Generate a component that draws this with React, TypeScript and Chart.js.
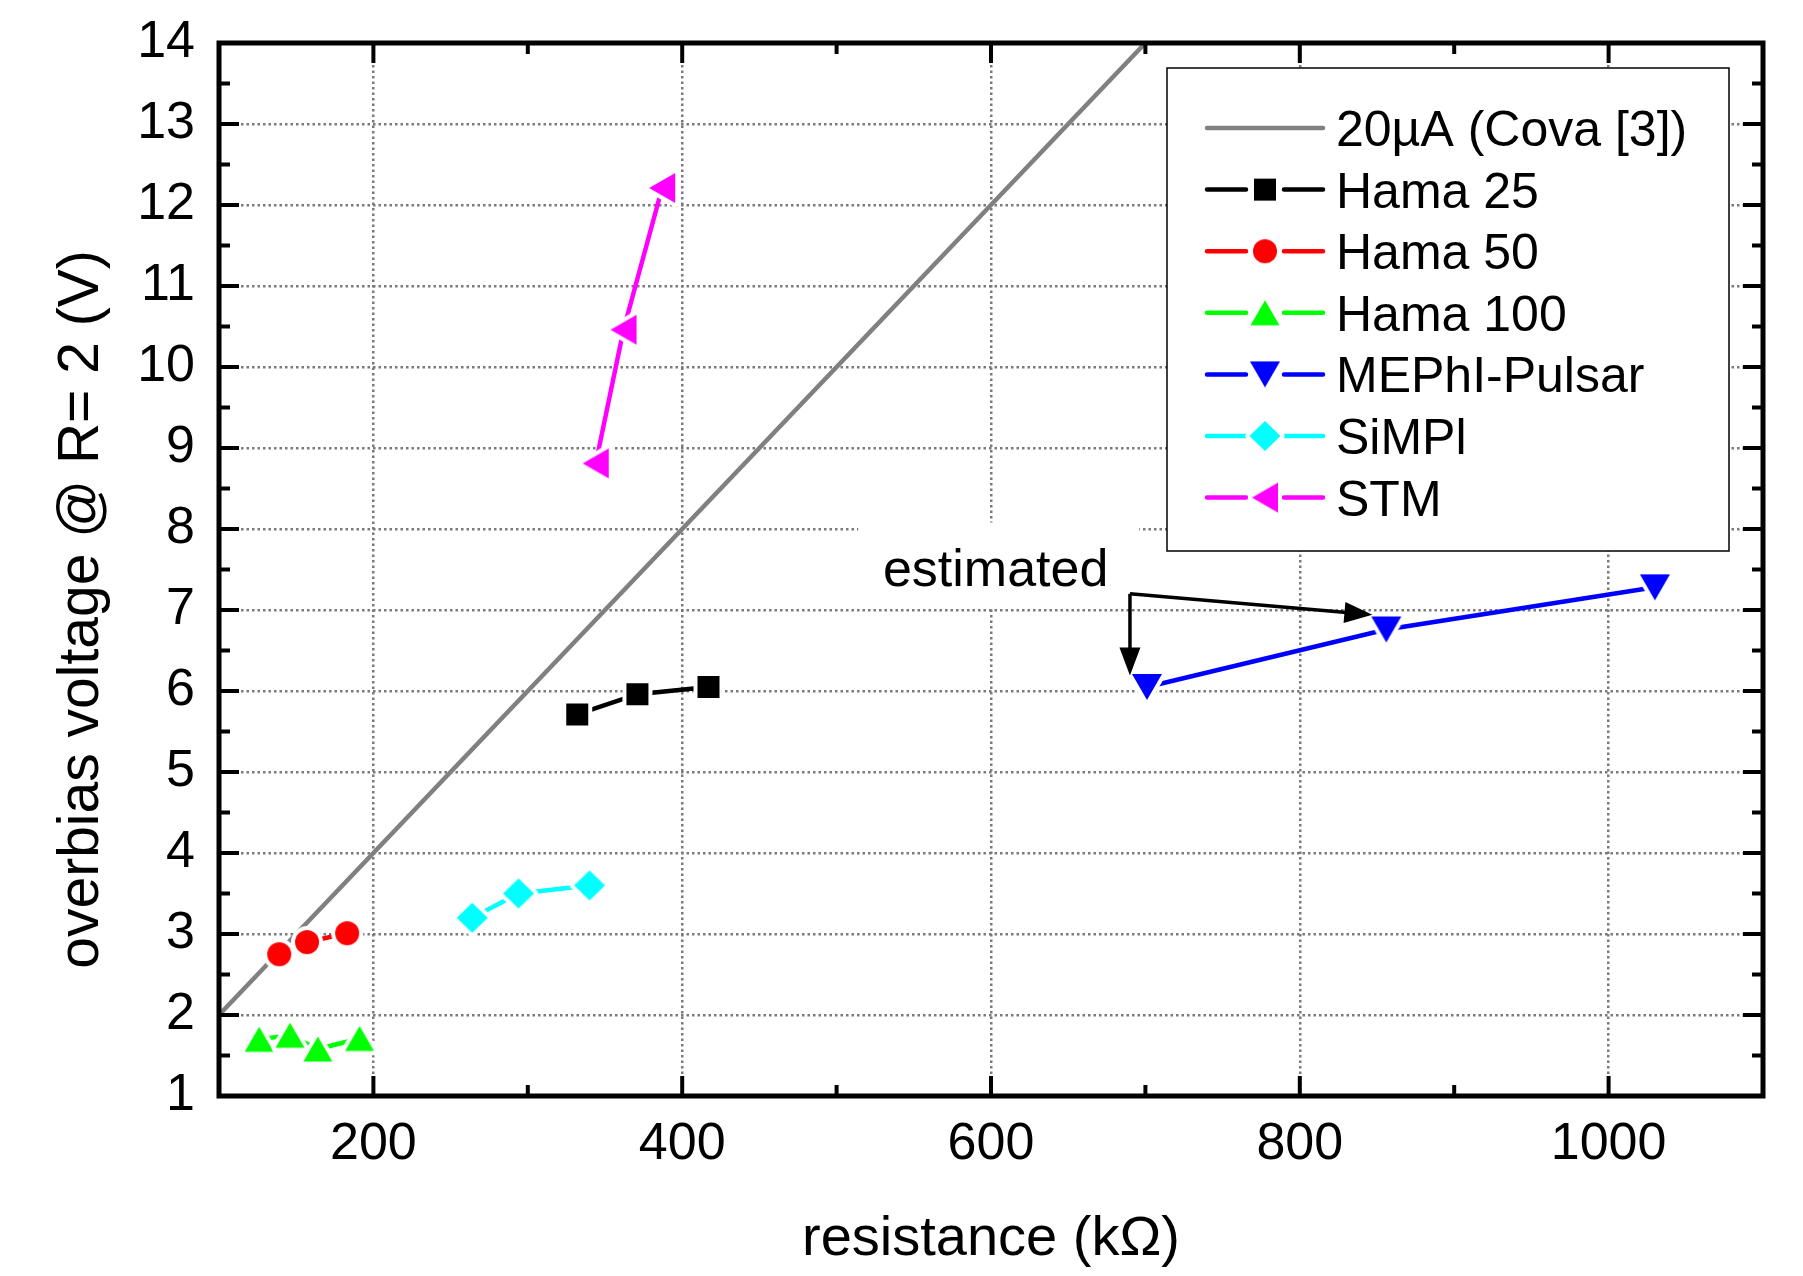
import React, { useEffect, useRef } from "react";
import { Chart, registerables } from "chart.js";

Chart.register(...registerables);

// ---------------- data ----------------
const X_MIN = 100;
const X_MAX = 1100;
const Y_MIN = 1;
const Y_MAX = 14;

const xMajorTicks = [200, 400, 600, 800, 1000];
const xMinorTicks = [300, 500, 700, 900];
const yMajorTicks = [1, 2, 3, 4, 5, 6, 7, 8, 9, 10, 11, 12, 13, 14];
const yMinorTicks = [1.5, 2.5, 3.5, 4.5, 5.5, 6.5, 7.5, 8.5, 9.5, 10.5, 11.5, 12.5, 13.5];

const covaX = [100, 700];
const covaY = [2, 14];

const hama25X = [332, 371, 417];
const hama25Y = [5.71, 5.96, 6.05];

const hama50X = [139, 157, 183];
const hama50Y = [2.75, 2.9, 3.01];

const hama100X = [126, 146, 164, 191];
const hama100Y = [1.7, 1.75, 1.58, 1.71];

const mephiX = [701, 856, 1030];
const mephiY = [6.05, 6.76, 7.28];

const simplX = [264, 294, 340];
const simplY = [3.2, 3.5, 3.6];

const stmX = [344, 362, 387];
const stmY = [8.81, 10.46, 12.21];

const legendLabels = [
  "20\u00b5A (Cova [3])",
  "Hama 25",
  "Hama 50",
  "Hama 100",
  "MEPhI-Pulsar",
  "SiMPl",
  "STM",
];

const xTitle = "resistance (k\u03a9)";
const yTitle = "overbias voltage @ R= 2 (V)";

const annotationText = "estimated";
const annotationTextPos = [530, 7.53]; // data coords (left, middle)
const annotationBox = [514, 696, 7.03, 8.08]; // xFrom, xTo, yFrom, yTo
const arrowStart = [690, 7.2];
const arrowEnds = [
  [847, 6.94],
  [690, 6.19],
];

// ---------------- styles ----------------
const FONT = "'Liberation Sans', Arial, Helvetica, sans-serif";
const GRID = "#7a7a7a";
const COLORS = {
  cova: "#808080",
  hama25: "#000000",
  hama50: "#ff0000",
  hama100: "#00ff00",
  mephi: "#0000ff",
  simpl: "#00ffff",
  stm: "#ff00ff",
};

type Shape = "square" | "circle" | "triUp" | "triDown" | "diamond" | "triLeft";

function makeMarker(shape: Shape, color: string): HTMLCanvasElement {
  const halo = 4;
  const size = 50;
  const c = document.createElement("canvas");
  c.width = size;
  c.height = size;
  const g = c.getContext("2d") as CanvasRenderingContext2D;
  g.translate(size / 2, size / 2);
  g.beginPath();
  switch (shape) {
    case "square":
      g.rect(-11, -11, 22, 22);
      break;
    case "circle":
      g.arc(0, 0, 12, 0, Math.PI * 2);
      break;
    case "triUp": {
      const w = 29, h = 25;
      g.moveTo(0, -h / 2);
      g.lineTo(w / 2, h / 2);
      g.lineTo(-w / 2, h / 2);
      break;
    }
    case "triDown": {
      const w = 30, h = 26;
      g.moveTo(0, h / 2);
      g.lineTo(w / 2, -h / 2);
      g.lineTo(-w / 2, -h / 2);
      break;
    }
    case "diamond": {
      const w = 31, h = 30;
      g.moveTo(0, -h / 2);
      g.lineTo(w / 2, 0);
      g.lineTo(0, h / 2);
      g.lineTo(-w / 2, 0);
      break;
    }
    case "triLeft": {
      const w = 26, h = 30;
      g.moveTo(-w / 2, 0);
      g.lineTo(w / 2, -h / 2);
      g.lineTo(w / 2, h / 2);
      break;
    }
  }
  g.closePath();
  g.lineJoin = "round";
  g.lineWidth = halo * 2;
  g.strokeStyle = "#ffffff";
  g.stroke();
  g.fillStyle = color;
  g.fill();
  return c;
}

function pts(xs: number[], ys: number[]) {
  return xs.map((x, i) => ({ x, y: ys[i] }));
}

export default function App() {
  const ref = useRef<HTMLCanvasElement | null>(null);

  useEffect(() => {
    const canvas = ref.current;
    if (!canvas) return;

    const markers = {
      hama25: makeMarker("square", COLORS.hama25),
      hama50: makeMarker("circle", COLORS.hama50),
      hama100: makeMarker("triUp", COLORS.hama100),
      mephi: makeMarker("triDown", COLORS.mephi),
      simpl: makeMarker("diamond", COLORS.simpl),
      stm: makeMarker("triLeft", COLORS.stm),
    };

    const series = (label: string, xs: number[], ys: number[], color: string, marker: HTMLCanvasElement) => ({
      label,
      data: pts(xs, ys),
      showLine: true,
      borderColor: color,
      backgroundColor: color,
      borderWidth: 4.5,
      borderCapStyle: "round" as const,
      pointStyle: marker,
      pointRadius: 10,
      pointHoverRadius: 10,
      order: 1,
    });

    const legendEntries = [
      { label: legendLabels[0], color: COLORS.cova, marker: null as HTMLCanvasElement | null },
      { label: legendLabels[1], color: COLORS.hama25, marker: markers.hama25 },
      { label: legendLabels[2], color: COLORS.hama50, marker: markers.hama50 },
      { label: legendLabels[3], color: COLORS.hama100, marker: markers.hama100 },
      { label: legendLabels[4], color: COLORS.mephi, marker: markers.mephi },
      { label: legendLabels[5], color: COLORS.simpl, marker: markers.simpl },
      { label: legendLabels[6], color: COLORS.stm, marker: markers.stm },
    ];

    const decorPlugin = {
      id: "decor",
      beforeDraw(chart: any) {
        const ctx = chart.ctx;
        ctx.save();
        ctx.fillStyle = "#ffffff";
        ctx.fillRect(0, 0, chart.width, chart.height);
        ctx.restore();
      },
      beforeDatasetsDraw(chart: any) {
        const ctx = chart.ctx;
        const xs = chart.scales.x;
        const ys = chart.scales.y;
        const x0 = xs.getPixelForValue(annotationBox[0]);
        const x1 = xs.getPixelForValue(annotationBox[1]);
        const y0 = ys.getPixelForValue(annotationBox[3]);
        const y1 = ys.getPixelForValue(annotationBox[2]);
        ctx.save();
        ctx.fillStyle = "#ffffff";
        ctx.fillRect(x0, y0, x1 - x0, y1 - y0);
        ctx.restore();
      },
      afterDatasetsDraw(chart: any) {
        const ctx = chart.ctx;
        const xs = chart.scales.x;
        const ys = chart.scales.y;
        const { left: L, right: R, top: T, bottom: B } = chart.chartArea;

        ctx.save();
        // inward ticks
        ctx.strokeStyle = "#000";
        ctx.lineWidth = 4;
        ctx.lineCap = "butt";
        const tick = (x0: number, y0: number, x1: number, y1: number) => {
          ctx.beginPath();
          ctx.moveTo(x0, y0);
          ctx.lineTo(x1, y1);
          ctx.stroke();
        };
        const MAJ = 20, MIN = 11;
        yMajorTicks.forEach((v) => {
          const p = ys.getPixelForValue(v);
          tick(L, p, L + MAJ, p);
          tick(R, p, R - MAJ, p);
        });
        yMinorTicks.forEach((v) => {
          const p = ys.getPixelForValue(v);
          tick(L, p, L + MIN, p);
          tick(R, p, R - MIN, p);
        });
        xMajorTicks.forEach((v) => {
          const p = xs.getPixelForValue(v);
          tick(p, B, p, B - MAJ);
          tick(p, T, p, T + MAJ);
        });
        xMinorTicks.forEach((v) => {
          const p = xs.getPixelForValue(v);
          tick(p, B, p, B - MIN);
          tick(p, T, p, T + MIN);
        });
        // frame
        ctx.lineWidth = 5;
        ctx.lineJoin = "miter";
        ctx.strokeRect(L, T, R - L, B - T);

        // annotation text
        ctx.fillStyle = "#000";
        ctx.font = `52px ${FONT}`;
        ctx.textAlign = "left";
        ctx.textBaseline = "alphabetic";
        ctx.fillText(
          annotationText,
          xs.getPixelForValue(annotationTextPos[0]),
          ys.getPixelForValue(annotationTextPos[1]) + 0.358 * 52
        );

        // arrows
        const sx = xs.getPixelForValue(arrowStart[0]);
        const sy = ys.getPixelForValue(arrowStart[1]);
        ctx.lineWidth = 3.5;
        ctx.strokeStyle = "#000";
        arrowEnds.forEach(([ex, ey]) => {
          const x1 = xs.getPixelForValue(ex);
          const y1 = ys.getPixelForValue(ey);
          const dx = x1 - sx, dy = y1 - sy;
          const d = Math.hypot(dx, dy);
          const ux = dx / d, uy = dy / d;
          const len = 28, wid = 21;
          const bx = x1 - ux * len, by = y1 - uy * len;
          ctx.beginPath();
          ctx.moveTo(sx, sy);
          ctx.lineTo(bx + ux * 2, by + uy * 2);
          ctx.stroke();
          ctx.beginPath();
          ctx.moveTo(x1, y1);
          ctx.lineTo(bx - (uy * wid) / 2, by + (ux * wid) / 2);
          ctx.lineTo(bx + (uy * wid) / 2, by - (ux * wid) / 2);
          ctx.closePath();
          ctx.fill();
        });

        // legend
        const bx0 = 1167, by0 = 68, bx1 = 1729, by1 = 551;
        ctx.fillStyle = "#fff";
        ctx.fillRect(bx0, by0, bx1 - bx0, by1 - by0);
        ctx.strokeStyle = "#000";
        ctx.lineWidth = 1.5;
        ctx.strokeRect(bx0, by0, bx1 - bx0, by1 - by0);
        const rowY0 = 128, rowStep = 61.6;
        const lx0 = 1207, lx1 = 1323, mx = 1265;
        ctx.lineCap = "round";
        legendEntries.forEach((e, i) => {
          const ry = rowY0 + i * rowStep;
          ctx.strokeStyle = e.color;
          ctx.lineWidth = 4.5;
          if (!e.marker) {
            ctx.beginPath();
            ctx.moveTo(lx0, ry);
            ctx.lineTo(lx1, ry);
            ctx.stroke();
          } else {
            ctx.beginPath();
            ctx.moveTo(lx0, ry);
            ctx.lineTo(1246, ry);
            ctx.moveTo(1284, ry);
            ctx.lineTo(lx1, ry);
            ctx.stroke();
            ctx.drawImage(e.marker, mx - e.marker.width / 2, ry - e.marker.height / 2);
          }
          ctx.fillStyle = "#000";
          ctx.font = `50px ${FONT}`;
          ctx.textAlign = "left";
          ctx.textBaseline = "alphabetic";
          ctx.fillText(e.label, 1336, ry + 0.358 * 50);
        });

        // y title
        ctx.save();
        ctx.translate(98, 609.5);
        ctx.rotate(-Math.PI / 2);
        ctx.fillStyle = "#000";
        ctx.font = `57px ${FONT}`;
        ctx.textAlign = "center";
        ctx.textBaseline = "alphabetic";
        ctx.fillText(yTitle, 0, 0);
        ctx.restore();

        ctx.restore();
      },
    };

    const chart = new Chart(canvas, {
      type: "scatter",
      data: {
        datasets: [
          {
            label: legendLabels[0],
            data: pts(covaX, covaY),
            showLine: true,
            borderColor: COLORS.cova,
            borderWidth: 4.5,
            pointRadius: 0,
            order: 10,
          } as any,
          series(legendLabels[1], hama25X, hama25Y, COLORS.hama25, markers.hama25),
          series(legendLabels[2], hama50X, hama50Y, COLORS.hama50, markers.hama50),
          series(legendLabels[3], hama100X, hama100Y, COLORS.hama100, markers.hama100),
          series(legendLabels[4], mephiX, mephiY, COLORS.mephi, markers.mephi),
          series(legendLabels[5], simplX, simplY, COLORS.simpl, markers.simpl),
          series(legendLabels[6], stmX, stmY, COLORS.stm, markers.stm),
        ],
      },
      options: {
        animation: false,
        responsive: false,
        devicePixelRatio: 1,
        events: [],
        layout: { padding: { top: 43, right: 40, bottom: 0, left: 0 }, autoPadding: false },
        plugins: {
          legend: { display: false },
          tooltip: { enabled: false },
          title: { display: false },
        },
        scales: {
          x: {
            type: "linear",
            position: "bottom",
            min: X_MIN,
            max: X_MAX,
            afterBuildTicks: (s: any) => {
              s.ticks = xMajorTicks.map((v) => ({ value: v }));
            },
            afterFit: (s: any) => {
              s.height = 180;
              s.paddingLeft = 0;
              s.paddingRight = 0;
              s.paddingTop = 0;
              s.paddingBottom = 0;
            },
            grid: { color: GRID, lineWidth: 2.5, drawTicks: false },
            border: { display: false, dash: [2.5, 3] },
            ticks: {
              font: { family: FONT, size: 52 },
              color: "#000",
              padding: 17,
              maxRotation: 0,
              autoSkip: false,
              callback: (v: any) => String(v),
            },
            title: {
              display: true,
              text: xTitle,
              font: { family: FONT, size: 56 },
              color: "#000",
              padding: { top: 0, bottom: 3 },
            },
          },
          y: {
            type: "linear",
            position: "left",
            min: Y_MIN,
            max: Y_MAX,
            afterBuildTicks: (s: any) => {
              s.ticks = yMajorTicks.map((v) => ({ value: v }));
            },
            afterFit: (s: any) => {
              s.width = 219;
              s.paddingLeft = 0;
              s.paddingRight = 0;
              s.paddingTop = 0;
              s.paddingBottom = 0;
            },
            grid: { color: GRID, lineWidth: 2.5, drawTicks: false },
            border: { display: false, dash: [2.5, 3] },
            ticks: {
              font: { family: FONT, size: 52 },
              color: "#000",
              padding: 24,
              autoSkip: false,
              callback: (v: any) => String(v),
            },
            title: { display: false },
          },
        },
      },
      plugins: [decorPlugin],
    } as any);

    return () => {
      chart.destroy();
    };
  }, []);

  return (
    <div style={{ position: "fixed", left: 0, top: 0, width: 1803, height: 1276, background: "#fff" }}>
      <canvas ref={ref} width={1803} height={1276} style={{ display: "block", width: 1803, height: 1276 }} />
    </div>
  );
}
